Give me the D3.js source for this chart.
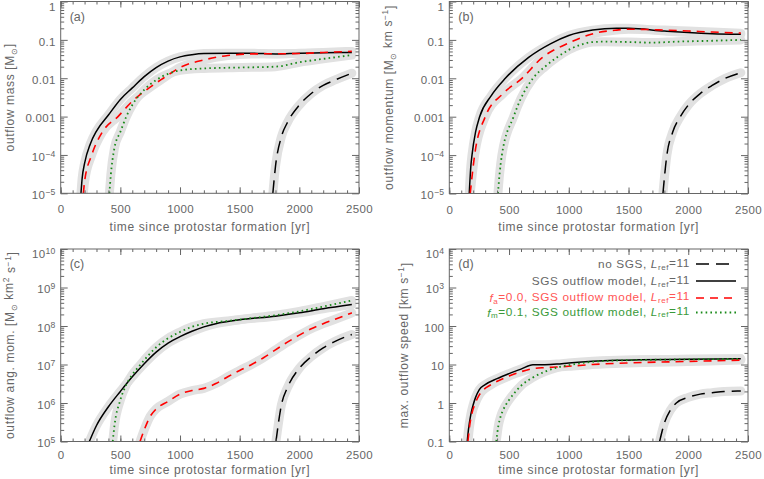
<!DOCTYPE html>
<html>
<head>
<meta charset="utf-8">
<script src="https://cdn.jsdelivr.net/npm/d3@7"></script>
<style>
  body { margin: 0; background: #fff; }
  svg text { font-family: 'Liberation Sans', Arial, sans-serif; fill: #666; }
</style>
</head>
<body>
<div id="chart"></div>
<script>
// ---- data ----
// time [yr], value
var massNoSgs = [[1778, 1e-5], [1800, 5e-5], [1850, 3e-4], [1900, 7e-4], [2000, 2e-3], [2100, 4e-3], [2200, 6.5e-3], [2300, 9e-3], [2440, 0.0135]]
var massSgs = [[170, 1e-5], [180, 2.5e-5], [200, 6e-5], [250, 2e-4], [300, 4.2e-4], [400, 1.1e-3], [500, 2.8e-3], [600, 5.6e-3], [700, 0.011], [800, 0.019], [900, 0.028], [1000, 0.036], [1100, 0.041], [1200, 0.044], [1400, 0.045], [1600, 0.045], [1800, 0.043], [2000, 0.045], [2200, 0.046], [2440, 0.047]]
var massFa = [[190, 1e-5], [200, 2e-5], [260, 1e-4], [350, 4e-4], [480, 1e-3], [600, 2.5e-3], [700, 4.5e-3], [860, 0.01], [1000, 0.019], [1200, 0.03], [1400, 0.039], [1600, 0.043], [2000, 0.044], [2200, 0.047], [2440, 0.05]]
var massFm = [[408, 1e-5], [420, 3e-5], [450, 1.5e-4], [500, 4e-4], [550, 1e-3], [600, 2e-3], [700, 5e-3], [800, 9e-3], [900, 0.013], [1000, 0.016], [1200, 0.018], [1500, 0.019], [1800, 0.02], [2000, 0.026], [2200, 0.032], [2440, 0.04]]

var momNoSgs = [[1788, 1e-5], [1821, 1e-4], [1870, 4e-4], [1933, 1e-3], [2000, 2e-3], [2100, 4e-3], [2200, 6.5e-3], [2310, 0.01], [2440, 0.014]]
var momSgs = [[167, 1e-5], [180, 5e-5], [190, 1e-4], [220, 4e-4], [254, 1e-3], [350, 3.5e-3], [469, 0.01], [664, 0.035], [850, 0.08], [1000, 0.13], [1200, 0.18], [1400, 0.2], [1500, 0.2], [1800, 0.17], [2000, 0.155], [2200, 0.145], [2440, 0.14]]
var momFa = [[175, 1e-5], [212, 1e-4], [301, 1e-3], [450, 4e-3], [608, 0.01], [775, 0.034], [1000, 0.083], [1222, 0.15], [1400, 0.18], [1500, 0.19], [1800, 0.18], [2000, 0.17], [2200, 0.16], [2440, 0.15]]
var momFm = [[407, 1e-5], [420, 3e-5], [440, 1e-4], [538, 1e-3], [600, 3e-3], [700, 0.01], [800, 0.02], [900, 0.035], [1000, 0.055], [1100, 0.075], [1200, 0.088], [1300, 0.09], [1500, 0.088], [1700, 0.085], [1900, 0.09], [2200, 0.095], [2440, 0.1]]

var angNoSgs = [[1804, 1e5], [1850, 9e5], [1900, 2.5e6], [2000, 8e6], [2100, 1.6e7], [2200, 2.7e7], [2300, 4e7], [2440, 6e7]]
var angSgs = [[240, 1e5], [300, 2.6e5], [400, 8e5], [500, 2e6], [600, 4.8e6], [700, 1.05e7], [800, 2.1e7], [900, 3.6e7], [1000, 5.3e7], [1100, 7.3e7], [1200, 9.5e7], [1300, 1.15e8], [1400, 1.3e8], [1500, 1.45e8], [1800, 1.8e8], [2000, 2.2e8], [2200, 2.8e8], [2440, 3.6e8]]
var angFa = [[665, 1e5], [700, 2e5], [750, 4.5e5], [800, 7e5], [900, 1.1e6], [1000, 1.7e6], [1100, 2.1e6], [1200, 2.4e6], [1300, 3.2e6], [1400, 4.8e6], [1500, 7e6], [1600, 1e7], [1700, 1.5e7], [1800, 2.4e7], [1900, 3.8e7], [2000, 5.8e7], [2100, 8.5e7], [2200, 1.15e8], [2300, 1.5e8], [2440, 2.2e8]]
var angFm = [[436, 1e5], [450, 2.5e5], [500, 1.2e6], [550, 3e6], [600, 5.5e6], [650, 8.5e6], [700, 1.3e7], [800, 2.8e7], [900, 4.8e7], [1000, 7e7], [1100, 9.5e7], [1200, 1.15e8], [1400, 1.35e8], [1600, 1.6e8], [1800, 1.9e8], [2000, 2.4e8], [2200, 3.2e8], [2440, 4.6e8]]

var velNoSgs = [[1760, 0.1], [1800, 0.3], [1850, 0.65], [1900, 1.0], [2000, 1.4], [2100, 1.7], [2200, 1.85], [2300, 2.0], [2440, 2.05]]
var velSgs = [[150, 0.1], [160, 0.2], [180, 0.5], [200, 0.9], [220, 1.4], [250, 2.2], [300, 3.0], [400, 4.3], [500, 5.8], [600, 7.6], [700, 9.8], [800, 9.9], [900, 10.3], [1000, 11], [1200, 12.2], [1400, 12.9], [1600, 13.2], [2000, 13.6], [2440, 14]]
var velFa = [[156, 0.1], [170, 0.25], [190, 0.55], [218, 1.0], [250, 1.6], [273, 2.0], [350, 3.0], [500, 5], [600, 6.5], [700, 7.8], [800, 8.3], [900, 8.6], [1000, 9], [1200, 10], [1500, 11], [2000, 12], [2440, 13]]
var velFm = [[393, 0.1], [410, 0.25], [430, 0.45], [450, 0.65], [500, 1.2], [550, 1.9], [600, 2.8], [700, 4.6], [800, 6.5], [900, 8.3], [1000, 9.6], [1100, 10.8], [1200, 11.8], [1400, 12.7], [1600, 13.1], [2000, 13.6], [2440, 14]]

var xTicks = [0, 500, 1000, 1500, 2000, 2500]
var massTicks = [1e-5, 1e-4, 1e-3, 1e-2, 0.1, 1]
var massTickLabels = ['10^−5', '10^−4', '0.001', '0.01', '0.1', '1']
var angTicks = [1e5, 1e6, 1e7, 1e8, 1e9, 1e10]
var angTickLabels = ['10^5', '10^6', '10^7', '10^8', '10^9', '10^10']
var velTicks = [0.1, 1, 10, 100, 1e3, 1e4]
var velTickLabels = ['0.1', '1', '10', '100', '10^3', '10^4']

var styles = {
  noSgs: { color: '#000', dash: '13,7', width: 1.5 },
  sgs: { color: '#000', dash: null, width: 1.5 },
  fa: { color: '#f00', dash: '8,6', width: 1.6 },
  fm: { color: '#1a8a1a', dash: '1.6,3.2', width: 1.8 }
}

var panels = [
  { id: 'a', x0: 60.7, x1: 359, y0: 1.5, y1: 193.3, domain: [1e-5, 1], ticks: massTicks, labels: massTickLabels,
    series: { noSgs: massNoSgs, sgs: massSgs, fa: massFa, fm: massFm }, labelX: 10, tickPad: 12, titleOff: 37.5 },
  { id: 'b', x0: 449.3, x1: 748, y0: 1.5, y1: 193.5, domain: [1e-5, 1], ticks: massTicks, labels: massTickLabels,
    series: { noSgs: momNoSgs, sgs: momSgs, fa: momFa, fm: momFm }, labelX: 389, tickPad: 12, titleOff: 37.5 },
  { id: 'c', x0: 60.7, x1: 359, y0: 249, y1: 441.5, domain: [1e5, 1e10], ticks: angTicks, labels: angTickLabels,
    series: { noSgs: angNoSgs, sgs: angSgs, fa: angFa, fm: angFm }, labelX: 10, tickPad: 9, titleOff: 32.5 },
  { id: 'd', x0: 449.3, x1: 748, y0: 249, y1: 441.5, domain: [0.1, 1e4], ticks: velTicks, labels: velTickLabels,
    series: { noSgs: velNoSgs, sgs: velSgs, fa: velFa, fm: velFm }, labelX: 404, tickPad: 9, titleOff: 32.5 }
]

var svg = d3.select('#chart').append('svg').attr('width', 764).attr('height', 479)

function supLabel(sel) {
  sel.each(function() {
    var t = d3.select(this)
    var s = t.text()
    if (s.indexOf('^') < 0) return
    var parts = s.split('^')
    t.text(null)
    t.append('tspan').text(parts[0])
    t.append('tspan').attr('dy', '-0.45em').attr('font-size', '0.75em').text(parts[1])
  })
}

function minorLog(domain) {
  var out = []
  for (var e = Math.round(Math.log10(domain[0])); e < Math.round(Math.log10(domain[1])); e++) {
    for (var k = 2; k <= 9; k++) out.push(k * Math.pow(10, e))
  }
  return out
}

panels.forEach(function(p) {
  var w = p.x1 - p.x0
  var h = p.y1 - p.y0
  var g = svg.append('g').attr('transform', 'translate(' + p.x0 + ',' + p.y0 + ')')
  var x = d3.scaleLinear().domain([0, 2500]).range([0, w])
  var y = d3.scaleLog().domain(p.domain).range([h, 0])

  g.append('clipPath').attr('id', 'clip-' + p.id)
    .append('rect').attr('width', w).attr('height', h)

  var line = d3.line()
    .x(function(d) { return x(d[0]) })
    .y(function(d) { return y(d[1]) })
    .curve(d3.curveMonotoneX)

  var plot = g.append('g').attr('clip-path', 'url(#clip-' + p.id + ')')
  var keys = ['noSgs', 'sgs', 'fa', 'fm']
  // grey spread bands
  keys.forEach(function(k) {
    plot.append('path').datum(p.series[k]).attr('d', line)
      .attr('fill', 'none').attr('stroke', '#e1e1e1').attr('stroke-width', 9)
      .attr('stroke-linecap', 'round')
  })
  keys.forEach(function(k) {
    var s = styles[k]
    plot.append('path').datum(p.series[k]).attr('d', line)
      .attr('fill', 'none').attr('stroke', s.color).attr('stroke-width', s.width)
      .attr('stroke-dasharray', s.dash)
  })

  // axes
  var axisCol = '#666'
  function style(a) {
    a.select('.domain').remove()
    a.selectAll('line').attr('stroke', axisCol)
    a.selectAll('text').attr('font-size', 11.5).attr('fill', '#666').attr('letter-spacing', 0.3)
  }
  g.append('g').attr('transform', 'translate(0,' + h + ')')
    .call(d3.axisBottom(x).tickValues(xTicks).tickSize(-6).tickPadding(p.tickPad).tickFormat(d3.format('d'))).call(style)
  g.append('g').attr('transform', 'translate(0,' + h + ')')
    .call(d3.axisBottom(x).tickValues(d3.range(0, 2501, 100)).tickSize(-3).tickFormat('')).call(style)
  g.append('g').call(d3.axisTop(x).tickValues(xTicks).tickSize(-6).tickFormat('')).call(style)
  g.append('g').call(d3.axisTop(x).tickValues(d3.range(0, 2501, 100)).tickSize(-3).tickFormat('')).call(style)

  g.append('g')
    .call(d3.axisLeft(y).tickValues(p.ticks).tickSize(-7).tickPadding(5)
      .tickFormat(function(d, i) { return p.labels[i] }))
    .call(style)
    .selectAll('text')
    .attr('dy', function(d, i) { return i === p.ticks.length - 1 ? '0.75em' : '0.45em' })
    .call(supLabel)
  g.append('g').call(d3.axisLeft(y).tickValues(minorLog(p.domain)).tickSize(-3.5).tickFormat('')).call(style)
  g.append('g').attr('transform', 'translate(' + w + ',0)')
    .call(d3.axisRight(y).tickValues(p.ticks).tickSize(-7).tickFormat('')).call(style)
  g.append('g').attr('transform', 'translate(' + w + ',0)')
    .call(d3.axisRight(y).tickValues(minorLog(p.domain)).tickSize(-3.5).tickFormat('')).call(style)

  g.append('rect').attr('width', w).attr('height', h)
    .attr('fill', 'none').attr('stroke', axisCol).attr('stroke-width', 1)

  g.append('text').attr('x', 9).attr('y', 19).attr('font-size', 12.5).text('(' + p.id + ')')

  g.append('text').attr('x', w / 2).attr('y', h + p.titleOff).attr('text-anchor', 'middle')
    .attr('font-size', 12).attr('letter-spacing', 0.65)
    .text('time since protostar formation [yr]')

  p.g = g
  p.h = h
  p.w = w
})

// y-axis titles
function yTitle(p, parts) {
  var t = svg.append('text')
    .attr('transform', 'translate(' + (p.labelX + 4) + ',' + (p.y0 + p.h / 2) + ') rotate(-90)')
    .attr('text-anchor', 'middle').attr('font-size', 12).attr('letter-spacing', 0.65)
  parts.forEach(function(q) {
    var ts = t.append('tspan').text(q[0])
    if (q[1] === 'sub') ts.attr('font-size', '0.7em').attr('dy', '0.3em')
    if (q[1] === 'up') ts.attr('dy', '-0.3em')
    if (q[1] === 'sup') ts.attr('font-size', '0.7em').attr('dy', '-0.45em')
    if (q[1] === 'down') ts.attr('dy', '0.45em')
  })
}
yTitle(panels[0], [['outflow mass [M'], ['⊙', 'sub'], [']', 'up']])
yTitle(panels[1], [['outflow momentum [M'], ['⊙', 'sub'], [' km s', 'up'], ['−1', 'sup'], [']', 'down']])
yTitle(panels[2], [['outflow ang. mom. [M'], ['⊙', 'sub'], [' km', 'up'], ['2', 'sup'], [' s', 'down'], ['−1', 'sup'], [']', 'down']])
yTitle(panels[3], [['max. outflow speed [km s'], ['−1', 'sup'], [']', 'down']])

// legend in panel (d)
var legendRows = [
  { key: 'noSgs', y: 264, color: '#666', pre: null, preVal: '', text: 'no SGS, ' },
  { key: 'sgs', y: 281, color: '#666', pre: null, preVal: '', text: 'SGS outflow model, ' },
  { key: 'fa', y: 298, color: '#f55', pre: 'a', preVal: '=0.0, ', text: 'SGS outflow model, ' },
  { key: 'fm', y: 312.5, color: '#3a9a3a', pre: 'm', preVal: '=0.1, ', text: 'SGS outflow model, ' }
]
legendRows.forEach(function(r) {
  var t = svg.append('text').attr('x', 690).attr('y', r.y + 4).attr('text-anchor', 'end')
    .attr('font-size', 11.8).attr('letter-spacing', 0.6).style('fill', r.color)
  if (r.pre) {
    t.append('tspan').attr('font-style', 'italic').text('f')
    t.append('tspan').attr('font-size', '0.68em').attr('dy', '0.2em').text(r.pre)
    t.append('tspan').attr('dy', '-0.2em').text(r.preVal)
  }
  t.append('tspan').text(r.text)
  t.append('tspan').attr('font-style', 'italic').text('L')
  t.append('tspan').attr('font-size', '0.68em').attr('dy', '0.2em').text('ref')
  t.append('tspan').attr('dy', '-0.2em').text('=11')
  var s = styles[r.key]
  svg.append('line').attr('x1', 696).attr('x2', 736).attr('y1', r.y).attr('y2', r.y)
    .attr('stroke', s.color).attr('stroke-width', s.width).attr('stroke-dasharray', s.dash)
})
</script>
</body>
</html>
